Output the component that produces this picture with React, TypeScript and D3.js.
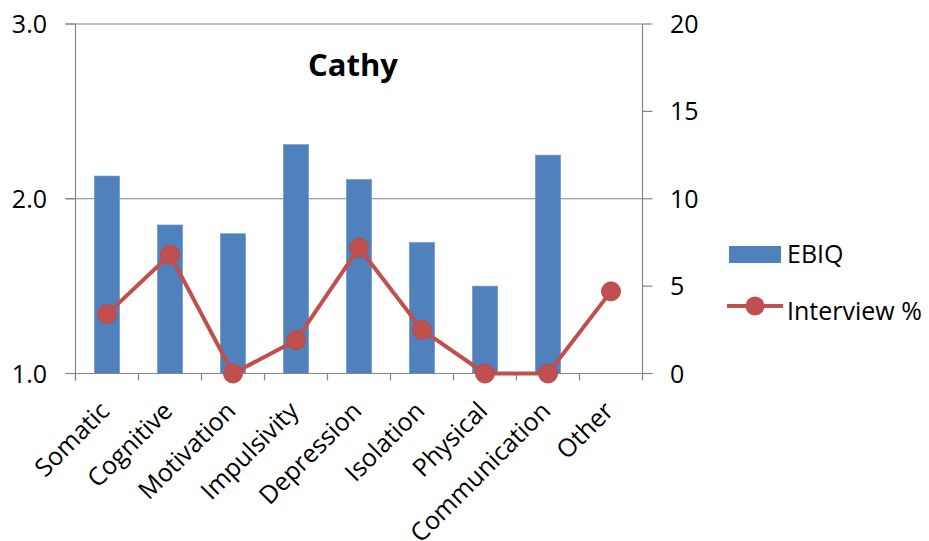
import React from "react";
import * as d3 from "d3";

const categories = ["Somatic", "Cognitive", "Motivation", "Impulsivity", "Depression", "Isolation", "Physical", "Communication", "Other"];
const ebiq: (number | null)[] = [2.13, 1.85, 1.8, 2.31, 2.11, 1.75, 1.5, 2.25, null];
const interview = [3.4, 6.8, 0, 1.9, 7.2, 2.5, 0, 0, 4.7];
const leftTicks = [1.0, 2.0, 3.0];
const rightTicks = [0, 5, 10, 15, 20];
const title = "Cathy";
const seriesNames = ["EBIQ", "Interview %"];

const W = 929, H = 541;
const L = 75.5, R = 642.5, T = 24, B = 373.5;
const FONT = "'Open Sans', sans-serif";
const FS = 25;
const BLUE = "#4F81BD";
const RED = "#C0504D";
const AXIS = "#868686";

export default function App() {
  const x = d3.scaleBand().domain(categories).range([L, R]).paddingInner(0).paddingOuter(0);
  const yL = d3.scaleLinear().domain([1, 3]).range([B, T]);
  const yR = d3.scaleLinear().domain([0, 20]).range([B, T]);
  const bw = x.bandwidth() * 0.4;
  const cx = (c: string) => (x(c) as number) + x.bandwidth() / 2;
  const line = d3.line<number>().x((_, i) => cx(categories[i])).y((d) => yR(d));

  return (
    <svg width={W} height={H} style={{ position: "absolute", left: 0, top: 0, background: "#fff" }} fontFamily={FONT}>
      {/* gridlines */}
      {leftTicks.filter((t) => t > 1).map((t) => (
        <line key={"g" + t} x1={L - 10} x2={R} y1={yL(t)} y2={yL(t)} stroke={AXIS} strokeWidth={1.2} />
      ))}
      {/* bars */}
      {ebiq.map((v, i) =>
        v == null ? null : (
          <rect key={"b" + i} x={cx(categories[i]) - bw / 2} y={yL(v)} width={bw} height={B - yL(v)} fill={BLUE} stroke="#7096c8" strokeWidth={0.6} />
        )
      )}
      {/* axes */}
      <line x1={L} x2={L} y1={T} y2={B + 7} stroke={AXIS} strokeWidth={1.2} />
      <line x1={R} x2={R} y1={T} y2={B + 7} stroke={AXIS} strokeWidth={1.2} />
      <line x1={L - 10} x2={R + 10} y1={B} y2={B} stroke={AXIS} strokeWidth={1.2} />
      {leftTicks.map((t) => (
        <g key={"l" + t}>
          <line x1={L - 10} x2={L} y1={yL(t)} y2={yL(t)} stroke={AXIS} strokeWidth={1.2} />
          <text x={47} y={yL(t)} dy="0.36em" textAnchor="end" fontSize={FS} fill="#000">{t.toFixed(1)}</text>
        </g>
      ))}
      {rightTicks.map((t) => (
        <g key={"r" + t}>
          <line x1={R} x2={R + 10} y1={yR(t)} y2={yR(t)} stroke={AXIS} strokeWidth={1.2} />
          <text x={670} y={yR(t)} dy="0.36em" textAnchor="start" fontSize={FS} fill="#000">{t}</text>
        </g>
      ))}
      {categories.map((c, i) => (
        <line key={"xt" + i} x1={x(c) as number} x2={x(c) as number} y1={B} y2={B + 7} stroke={AXIS} strokeWidth={1.2} />
      ))}
      {/* category labels */}
      {categories.map((c) => (
        <text key={"c" + c} transform={`translate(${cx(c) + 4},${B + 39}) rotate(-45)`} textAnchor="end" fontSize={FS} fill="#000">{c}</text>
      ))}
      {/* line */}
      <path d={line(interview) as string} fill="none" stroke={RED} strokeWidth={4} strokeLinejoin="round" />
      {interview.map((v, i) => (
        <circle key={"m" + i} cx={cx(categories[i])} cy={yR(v)} r={9.5} fill={RED} stroke="#b94a47" strokeWidth={1} />
      ))}
      {/* title */}
      <text x={353} y={76} textAnchor="middle" fontSize={31} fontWeight="bold" fill="#000">{title}</text>
      {/* legend */}
      <rect x={729} y={246} width={52} height={17} fill={BLUE} />
      <text x={787} y={263} fontSize={FS} fill="#000">{seriesNames[0]}</text>
      <line x1={727} x2={783} y1={306} y2={306} stroke={RED} strokeWidth={4} />
      <circle cx={755} cy={306} r={9.5} fill={RED} />
      <text x={787} y={320} fontSize={FS} fill="#000">{seriesNames[1]}</text>
    </svg>
  );
}
